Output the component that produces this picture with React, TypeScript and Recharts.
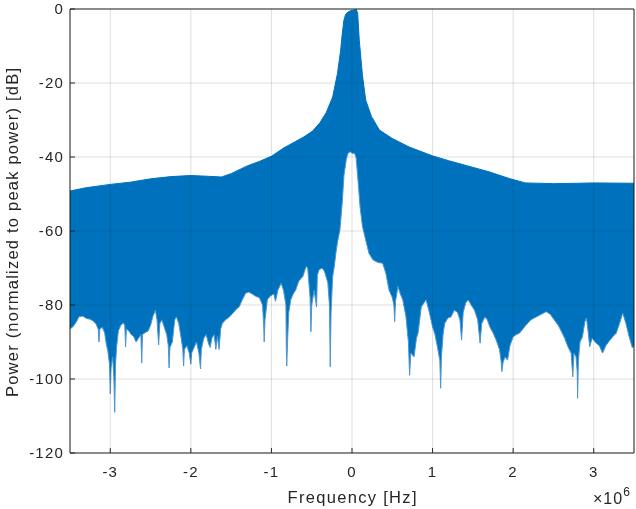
import React from 'react';
import { ComposedChart, Area, Line, XAxis, YAxis, CartesianGrid } from 'recharts';

// frequency in units of 1e6 Hz, power in dB
const upperFreq = [
  -3.5, -3.3, -3.0, -2.75, -2.5, -2.25, -2.0, -1.8, -1.62, -1.5, -1.3, -1.15, -1.0, -0.85, -0.7, -0.6,
  -0.49, -0.4, -0.32, -0.24, -0.18, -0.14, -0.12, -0.1, -0.08, -0.05, -0.02, 0.02, 0.05, 0.07, 0.09,
  0.13, 0.17, 0.24, 0.34, 0.5, 0.71, 1.0, 1.2, 1.45, 1.7, 1.95, 2.15, 2.5, 2.8, 3.0, 3.5,
];
const upperDb = [
  -49.2, -48.3, -47.4, -46.8, -45.9, -45.3, -45.0, -45.2, -45.4, -44.5, -42.4, -41.2, -39.8, -37.6, -35.8, -34.6,
  -33.0, -30.8, -28.0, -23.8, -17.4, -11.0, -6.5, -3.0, -1.5, -0.8, -0.5, -0.3, 0, -1.0, -8.4,
  -18.0, -24.6, -29.0, -32.7, -35.0, -37.3, -39.7, -41.0, -42.5, -44.0, -45.8, -47.0, -47.2, -47.1, -47.0, -47.1,
];

const lowerFreq = [
  -3.5, -3.46, -3.42, -3.39, -3.34, -3.3, -3.26, -3.22, -3.18, -3.15, -3.14, -3.13, -3.1, -3.07, -3.05, -3.03,
  -3.01, -3.0, -2.99, -2.97, -2.955, -2.945, -2.935, -2.92, -2.9, -2.87, -2.84, -2.82, -2.81, -2.8, -2.77, -2.74,
  -2.71, -2.68, -2.65, -2.62, -2.61, -2.6, -2.57, -2.53, -2.5, -2.47, -2.44, -2.42, -2.4, -2.385, -2.36, -2.33,
  -2.3, -2.28, -2.27, -2.26, -2.23, -2.2, -2.18, -2.15, -2.12, -2.1, -2.09, -2.08, -2.05, -2.02, -2.0, -1.99,
  -1.96, -1.93, -1.9, -1.88, -1.87, -1.84, -1.81, -1.78, -1.76, -1.74, -1.71, -1.69, -1.67, -1.65, -1.63, -1.61,
  -1.57, -1.52, -1.47, -1.43, -1.4, -1.36, -1.32, -1.28, -1.24, -1.19, -1.15, -1.11, -1.095, -1.09, -1.08, -1.05,
  -1.01, -0.97, -0.95, -0.92, -0.88, -0.85, -0.82, -0.815, -0.81, -0.8, -0.785, -0.76, -0.73, -0.7, -0.66, -0.61,
  -0.57, -0.55, -0.52, -0.51, -0.5, -0.47, -0.44, -0.43, -0.41, -0.37, -0.34, -0.3, -0.28, -0.27, -0.26, -0.24,
  -0.22, -0.2, -0.18, -0.15, -0.12, -0.1, -0.07, -0.05, -0.02, 0.0, 0.03, 0.05, 0.07, 0.1, 0.13, 0.17,
  0.21, 0.26, 0.32, 0.38, 0.42, 0.46, 0.5, 0.52, 0.53, 0.54, 0.57, 0.6, 0.63, 0.67, 0.7, 0.715,
  0.73, 0.77, 0.8, 0.82, 0.86, 0.89, 0.92, 0.96, 1.0, 1.03, 1.06, 1.09, 1.1, 1.11, 1.13, 1.15,
  1.19, 1.23, 1.27, 1.31, 1.34, 1.36, 1.38, 1.41, 1.44, 1.48, 1.52, 1.56, 1.59, 1.61, 1.65, 1.68,
  1.71, 1.75, 1.79, 1.83, 1.85, 1.86, 1.875, 1.9, 1.93, 1.96, 2.0, 2.04, 2.08, 2.12, 2.16, 2.22,
  2.29, 2.35, 2.41, 2.46, 2.51, 2.56, 2.6, 2.64, 2.68, 2.72, 2.74, 2.755, 2.78, 2.795, 2.8, 2.81,
  2.83, 2.86, 2.89, 2.91, 2.93, 2.95, 2.98, 3.03, 3.07, 3.11, 3.15, 3.2, 3.24, 3.28, 3.32, 3.36,
  3.4, 3.44, 3.48, 3.5,
];
const lowerDb = [
  -86.5, -85.8, -84.5, -83.2, -83.0, -83.6, -83.8, -84.2, -85.0, -86.5, -90.0, -86.5, -86.0, -87.5, -90.5, -92.5,
  -96.0, -104.0, -97.0, -94.0, -100.0, -109.0, -96.0, -91.0, -87.0, -85.5, -84.8, -85.5, -91.3, -86.5, -87.0, -88.0,
  -88.5, -90.0, -89.0, -88.0, -95.7, -88.0, -87.5, -87.0, -85.5, -83.0, -81.4, -84.0, -90.8, -85.0, -84.0, -86.0,
  -88.0, -91.0, -97.0, -91.5, -90.0, -84.0, -83.2, -85.0, -89.0, -92.0, -96.5, -92.0, -91.0, -93.0, -96.0, -93.0,
  -91.5, -90.0, -93.0, -97.3, -92.0, -89.0, -88.0, -90.5, -91.5, -89.0, -88.0, -92.0, -88.5, -92.0, -86.5, -85.0,
  -84.0, -83.2, -82.0, -81.0, -80.5, -78.5, -76.8, -76.5, -77.0, -77.7, -78.0, -80.0, -86.0, -90.0, -84.0, -78.5,
  -77.5, -77.0, -79.0, -76.0, -74.1, -76.0, -80.0, -92.0, -96.5, -90.0, -82.0, -78.6, -77.0, -76.0, -73.5, -72.3,
  -69.6, -70.0, -78.0, -87.2, -80.0, -76.0, -80.5, -72.0, -70.5, -70.0, -71.0, -74.0, -80.0, -96.7, -82.0, -72.3,
  -69.6, -66.0, -63.0, -59.7, -52.0, -45.0, -40.5, -39.0, -38.6, -39.0, -39.0, -40.0, -45.0, -53.4, -58.8, -62.4,
  -66.0, -67.8, -68.5, -68.7, -71.4, -76.0, -78.0, -80.0, -84.5, -79.0, -75.0, -77.0, -78.6, -83.2, -90.0, -99.0,
  -93.0, -94.0, -89.0, -87.6, -80.5, -79.5, -78.6, -82.0, -85.9, -88.0, -91.3, -95.0, -102.5, -94.0, -88.0, -85.0,
  -83.5, -83.2, -81.4, -82.0, -84.0, -89.5, -82.0, -79.5, -78.6, -80.0, -81.4, -84.0, -90.3, -85.0, -83.2, -84.0,
  -85.9, -87.5, -89.5, -92.0, -95.0, -98.0, -95.5, -94.0, -94.9, -91.0, -88.6, -88.0, -87.6, -86.5, -85.4, -84.0,
  -83.2, -82.5, -81.8, -82.5, -84.0, -85.5, -87.2, -89.0, -91.3, -93.0, -99.4, -93.0, -94.0, -98.0, -105.2, -95.0,
  -90.0, -88.6, -84.5, -83.5, -87.0, -91.3, -89.0, -90.3, -91.0, -93.0, -91.0, -89.5, -88.5, -87.6, -85.0, -82.2,
  -85.0, -88.6, -91.6, -91.0,
];

const xTicks = [-3, -2, -1, 0, 1, 2, 3];
const yTicks = [-120, -100, -80, -60, -40, -20, 0];

const upperRows = upperFreq.map((f, i) => ({ f, db: upperDb[i] }));
const lowerRows = lowerFreq.map((f, i) => ({ f, db: lowerDb[i] }));

const W = 636;
const H = 509;
const INK = '#262626';
const FONT = '"Liberation Sans", Arial, Helvetica, sans-serif';

const tickStyle = { fill: INK, fontSize: 15, fontFamily: FONT };

export default function App() {
  return (
    <div style={{ position: 'absolute', left: 0, top: 0, width: W, height: H, background: '#fff' }}>
      <style>{`
        .frame .recharts-cartesian-axis-tick-value { letter-spacing: 1.2px; }
      `}</style>

      {/* data layer */}
      <div style={{ position: 'absolute', left: 0, top: 0 }}>
        <ComposedChart width={W} height={H} margin={{ top: 9, right: 2, bottom: 56, left: 70 }}>
          <XAxis dataKey="f" type="number" domain={[-3.5, 3.5]} allowDataOverflow hide />
          <YAxis type="number" domain={[-120, 0]} allowDataOverflow hide />
          <Area
            data={upperRows}
            dataKey="db"
            type="linear"
            baseValue={-120}
            fill="#0072BD"
            fillOpacity={1}
            stroke="#0072BD"
            strokeWidth={1}
            isAnimationActive={false}
          />
          <Area
            data={lowerRows}
            dataKey="db"
            type="linear"
            baseValue={-120}
            fill="#ffffff"
            fillOpacity={1}
            stroke="#4a97d4"
            strokeWidth={1}
            isAnimationActive={false}
          />
        </ComposedChart>
      </div>

      {/* grid, box and labels, blended so the grid does not show over the blue */}
      <div className="frame" style={{ position: 'absolute', left: 0, top: 0, mixBlendMode: 'darken' }}>
        <ComposedChart width={W} height={H} margin={{ top: 8, right: 1, bottom: 0, left: 0 }}>
          <CartesianGrid stroke={INK} strokeOpacity={0.15} />
          <XAxis
            dataKey="f"
            type="number"
            domain={[-3.5, 3.5]}
            allowDataOverflow
            ticks={xTicks}
            height={56}
            stroke={INK}
            tickSize={-5}
            tickMargin={18}
            tick={tickStyle}
          />
          <XAxis
            xAxisId="top"
            orientation="top"
            dataKey="f"
            type="number"
            domain={[-3.5, 3.5]}
            allowDataOverflow
            ticks={xTicks}
            height={1}
            stroke={INK}
            tickSize={-5}
            tick={false}
          />
          <YAxis
            type="number"
            domain={[-120, 0]}
            allowDataOverflow
            ticks={yTicks}
            width={70}
            stroke={INK}
            tickSize={-5}
            tickMargin={11}
            tick={tickStyle}
          />
          <YAxis
            yAxisId="right"
            orientation="right"
            type="number"
            domain={[-120, 0]}
            allowDataOverflow
            ticks={yTicks}
            width={1}
            stroke={INK}
            tickSize={-5}
            tick={false}
          />
          <Line data={upperRows} dataKey="db" stroke="none" dot={false} activeDot={false} isAnimationActive={false} />
          <Line data={upperRows} dataKey="db" xAxisId="top" yAxisId="right" stroke="none" dot={false} activeDot={false} isAnimationActive={false} />
        </ComposedChart>

        <svg width={W} height={H} style={{ position: 'absolute', left: 0, top: 0 }}>
          <text
            x={352}
            y={503}
            textAnchor="middle"
            textLength={129}
            lengthAdjust="spacing"
            fill={INK}
            fontSize={16.5}
            fontFamily={FONT}
          >
            Frequency [Hz]
          </text>
          <text
            transform="translate(18, 232.5) rotate(-90)"
            x={0}
            y={0}
            textAnchor="middle"
            textLength={329}
            lengthAdjust="spacing"
            fill={INK}
            fontSize={16.5}
            fontFamily={FONT}
          >
            Power (normalized to peak power) [dB]
          </text>
        </svg>

        <div
          style={{
            position: 'absolute',
            left: 593,
            top: 491,
            fontFamily: FONT,
            fontSize: 16,
            lineHeight: '16px',
            letterSpacing: 1,
            color: INK,
            whiteSpace: 'nowrap',
          }}
        >
          ×10
          <span style={{ position: 'relative', top: -8, fontSize: 12 }}>6</span>
        </div>
      </div>
    </div>
  );
}
